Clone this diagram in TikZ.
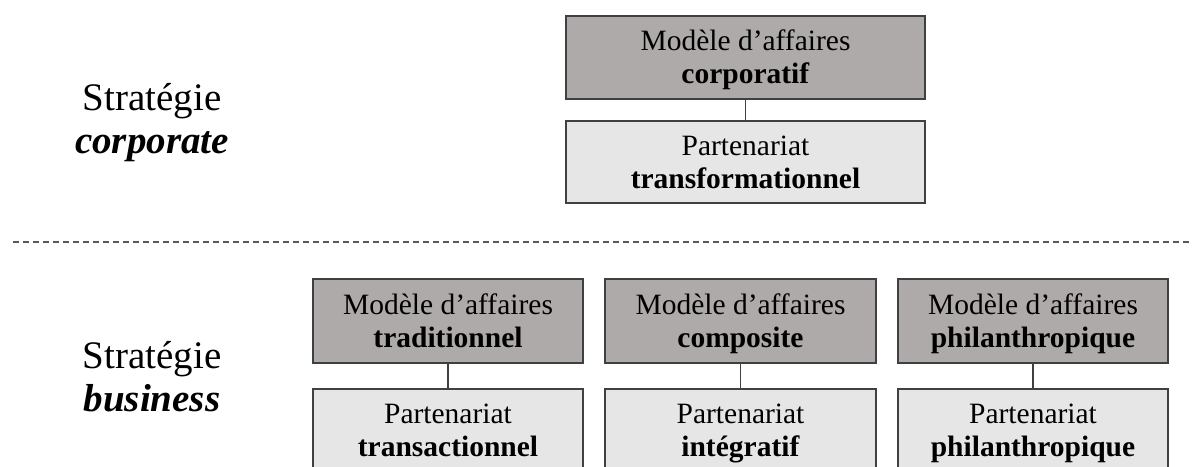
\documentclass[tikz,border=0pt]{standalone}
\usepackage{fontspec}
\setmainfont{Liberation Serif}
\definecolor{darkfill}{HTML}{AEAAA9}
\definecolor{lightfill}{HTML}{E6E6E6}
\definecolor{edge}{HTML}{404040}
\newcommand{\ls}{\rule[-7pt]{0pt}{33pt}}
\tikzset{
  boxbase/.style={draw=edge, line width=1.5pt, inner sep=0pt, align=center,
    font=\fontsize{29.5}{33}\selectfont},
  darkbox/.style={boxbase, fill=darkfill},
  lightbox/.style={boxbase, fill=lightfill},
  link/.style={draw=edge, line width=1.2pt},
  sep/.style={draw=black!65, line width=2pt, dash pattern=on 6pt off 4pt},
  label/.style={align=center, inner sep=0pt, font=\fontsize{39}{43}\selectfont}
}
\begin{document}
\begin{tikzpicture}[x=1pt,y=-1pt]
\useasboundingbox (0,0) rectangle (1193,466);
\clip (0,0) rectangle (1193,466);
% top row
\node[darkbox, minimum width=359pt, minimum height=83pt] (mc) at (745.5,57.5) {\ls Modèle d’affaires\\\ls\textbf{corporatif}};
\node[lightbox, minimum width=359pt, minimum height=82pt] (pc) at (745.5,162) {\ls Partenariat\\\ls\textbf{transformationnel}};
\draw[link] (mc.south) -- (pc.north);
% labels
\node[label] (lc) at (152,123) {Stratégie\\\textbf{\textit{corporate}}};
\node[label] (lb) at (152,377) {Stratégie\\\textbf{\textit{business}}};
% separator
\coordinate (s1) at (13,242);
\coordinate (s2) at (1193,242);
\draw[sep] (s1) -- (s2);
% bottom row
\node[darkbox, minimum width=270pt, minimum height=84pt] (m1) at (448,321) {\ls Modèle d’affaires\\\ls\textbf{traditionnel}};
\node[darkbox, minimum width=271pt, minimum height=84pt] (m2) at (740.5,321) {\ls Modèle d’affaires\\\ls\textbf{composite}};
\node[darkbox, minimum width=270pt, minimum height=84pt] (m3) at (1033,321) {\ls Modèle d’affaires\\\ls\textbf{philanthropique}};
\node[lightbox, minimum width=270pt, minimum height=83pt] (p1) at (448,430.5) {\ls Partenariat\\\ls\textbf{transactionnel}};
\node[lightbox, minimum width=271pt, minimum height=83pt] (p2) at (740.5,430.5) {\ls Partenariat\\\ls\textbf{intégratif}};
\node[lightbox, minimum width=270pt, minimum height=83pt] (p3) at (1033,430.5) {\ls Partenariat\\\ls\textbf{philanthropique}};
\draw[link] (m1.south) -- (p1.north);
\draw[link] (m2.south) -- (p2.north);
\draw[link] (m3.south) -- (p3.north);
\end{tikzpicture}
\end{document}
